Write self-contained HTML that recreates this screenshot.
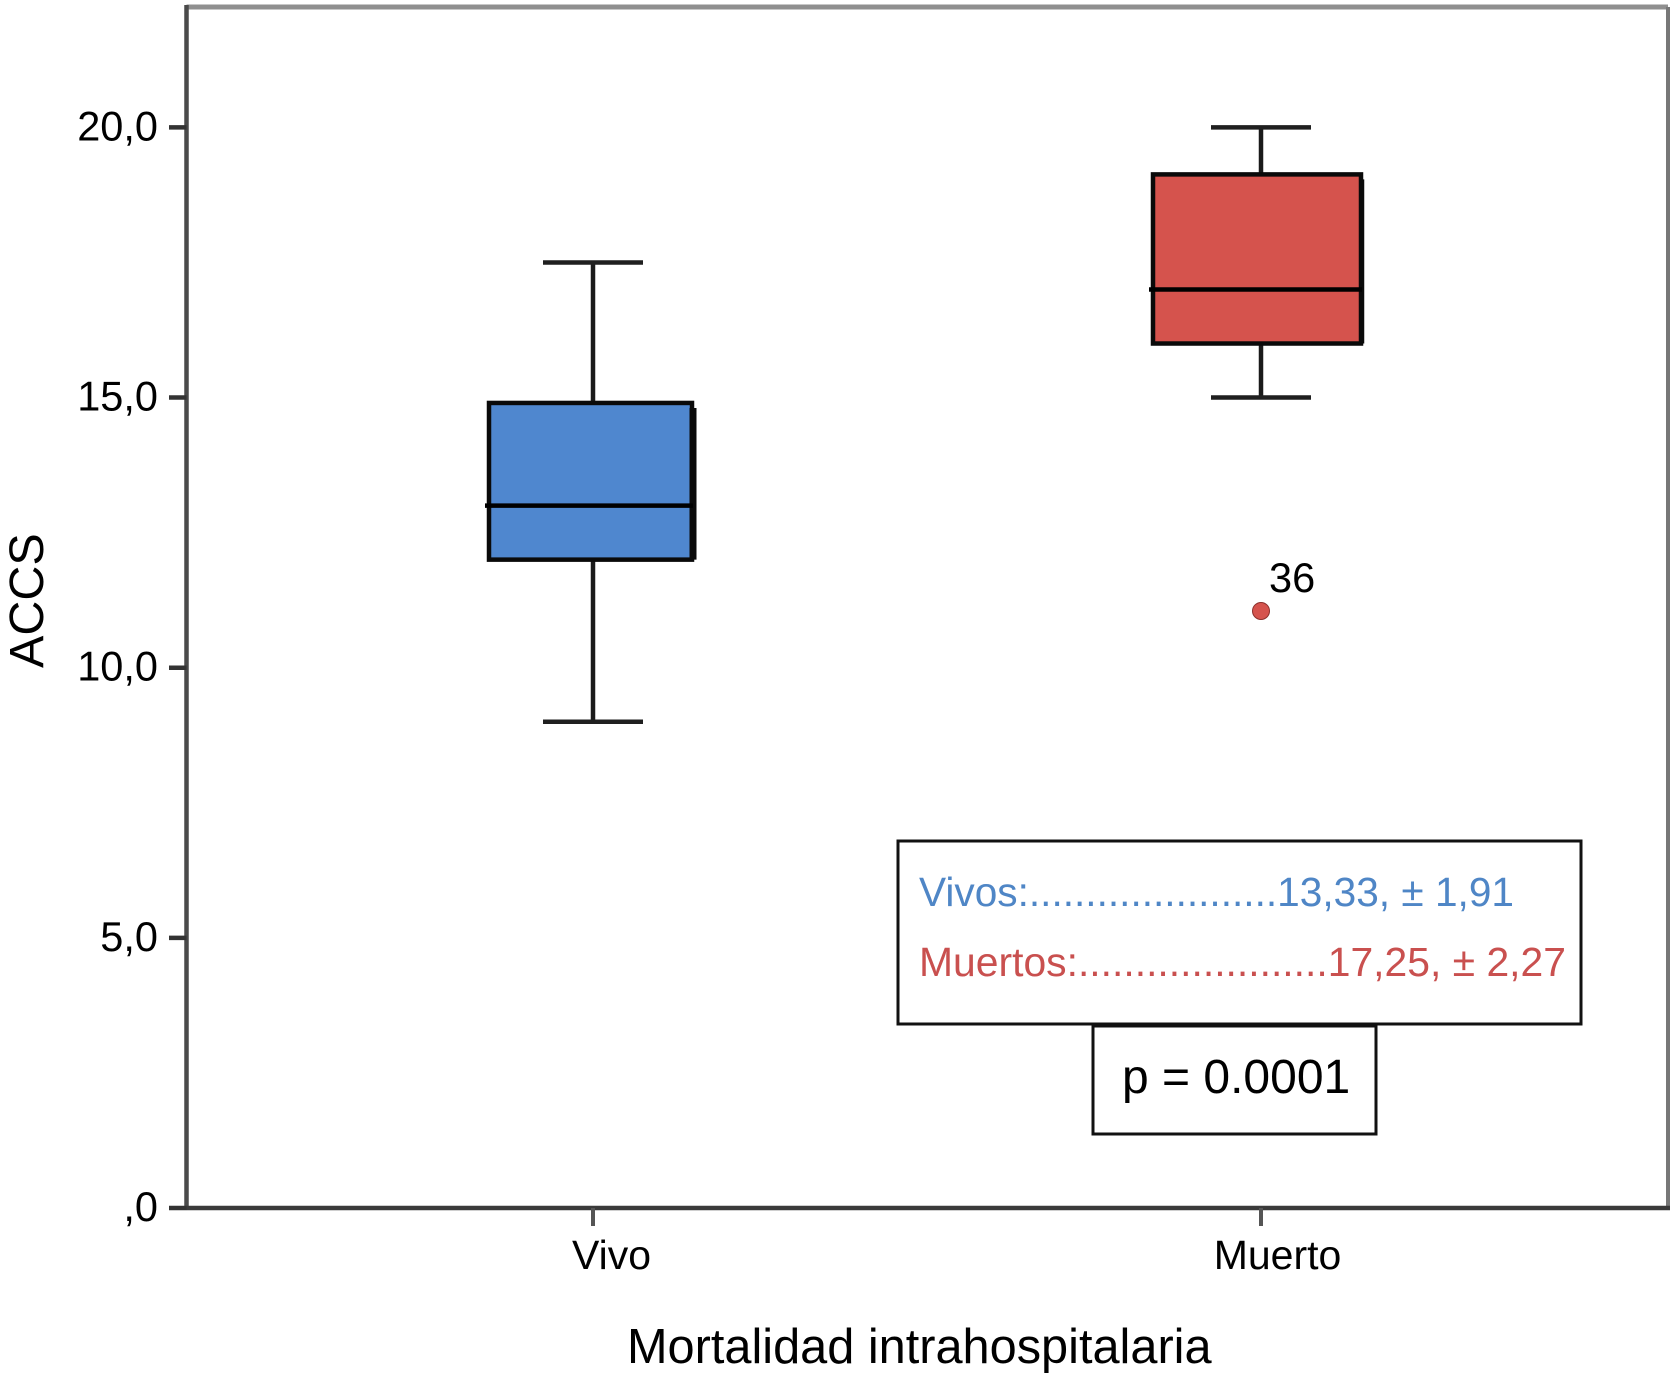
<!DOCTYPE html>
<html lang="es">
<head>
<meta charset="utf-8">
<title>ACCS por mortalidad intrahospitalaria</title>
<style>
  html, body { margin: 0; padding: 0; background: #fff; }
  body { width: 1672px; height: 1374px; overflow: hidden; }
  svg { display: block; }
  text { font-family: "Liberation Sans", sans-serif; fill: #000; }
</style>
</head>
<body>
<svg id="chart" xmlns="http://www.w3.org/2000/svg" width="1672" height="1374" viewBox="0 0 1672 1374">
  <rect x="0" y="0" width="1672" height="1374" fill="#fff"/>
  <g id="frame"></g>
  <g id="marks"></g>
  <g id="axes"></g>
  <text transform="translate(43 668) rotate(-90)" font-size="48.5">ACCS</text>
  <text x="627" y="1363" font-size="48.7">Mortalidad intrahospitalaria</text>
  <g>
    <rect x="898" y="841" width="683" height="183" fill="#fff" stroke="#111" stroke-width="3"/>
    <text x="919" y="906" font-size="41" style="fill:#4f86c6" textLength="595" lengthAdjust="spacingAndGlyphs">Vivos:......................13,33, ± 1,91</text>
    <text x="919" y="976" font-size="41" style="fill:#c9504f" textLength="647" lengthAdjust="spacingAndGlyphs">Muertos:......................17,25, ± 2,27</text>
  </g>
  <g>
    <rect x="1093" y="1026" width="283" height="108" fill="#fff" stroke="#111" stroke-width="3"/>
    <text x="1122" y="1093" font-size="48">p = 0.0001</text>
  </g>
</svg>
<script>
const categories = ["Vivo", "Muerto"];
const whiskerLow = [9, 15];
const q1 = [12, 16];
const medians = [13, 17];
const q3 = [14.9, 19.13];
const whiskerHigh = [17.5, 20];
const fills = ["#4f87cf", "#d5534d"];
const yTicks = [0, 5, 10, 15, 20];
const yTickLabels = [",0", "5,0", "10,0", "15,0", "20,0"];
const outlierValues = [11.05];
const outlierCategory = [1];
const outlierLabels = ["36"];

const NS = "http://www.w3.org/2000/svg";
const plotLeft = 186.5, plotRight = 1668, plotTop = 7, plotBottom = 1208;
const yZero = 1208, yPerUnit = 54.03;
const xFirst = 593, xStep = 668;
function yScale(v) { return yZero - v * yPerUnit; }
function xScale(i) { return xFirst + i * xStep; }

function make(tag, parent, attrs) {
  const el = document.createElementNS(NS, tag);
  for (const k in attrs) el.setAttribute(k, attrs[k]);
  parent.appendChild(el);
  return el;
}
function seg(parent, x1, y1, x2, y2, color, width) {
  return make("line", parent, { x1: x1, y1: y1, x2: x2, y2: y2, stroke: color, "stroke-width": width });
}

const frame = document.getElementById("frame");
const marks = document.getElementById("marks");
const axes = document.getElementById("axes");

let el;
el = seg(frame, plotLeft, plotTop, plotRight, plotTop, "#8f8f8f", 5);


el = seg(frame, plotRight, plotTop, plotRight, plotBottom, "#777", 4);



categories.forEach(function (cat, i) {
  const cx = xScale(i);
  const left = cx - (i === 0 ? 104 : 108), right = cx + (i === 0 ? 99 : 100);
  const g = make("g", marks, {});
  
  

  let m = seg(g, cx, yScale(whiskerHigh[i]), cx, yScale(q3[i]), "#1a1a1a", 4.5);
  
  
  m = seg(g, cx, yScale(q1[i]), cx, yScale(whiskerLow[i]), "#1a1a1a", 4.5);
  
  
  m = seg(g, cx - 50, yScale(whiskerHigh[i]), cx + 50, yScale(whiskerHigh[i]), "#1f1f1f", 4.5);
  
  
  m = seg(g, cx - 50, yScale(whiskerLow[i]), cx + 50, yScale(whiskerLow[i]), "#1f1f1f", 4.5);
  
  

  m = make("rect", g, {
    x: left, y: yScale(q3[i]), width: right - left,
    height: yScale(q1[i]) - yScale(q3[i]),
    fill: fills[i], stroke: "#0a0a0a", "stroke-width": 4.5
  });
  
  

  m = seg(g, right + 1, yScale(q3[i]) + 5, right + 1, yScale(q1[i]), "#0a0a0a", i === 0 ? 7 : 4.5);
  
  

  m = seg(g, left - 4, yScale(medians[i]), right + 1, yScale(medians[i]), "#000", 4.5);
  
  
});

outlierValues.forEach(function (v, i) {
  const cx = xScale(outlierCategory[i]);
  const dot = make("circle", marks, { cx: cx, cy: yScale(v), r: 8.5, fill: fills[outlierCategory[i]], stroke: "#8c2f2b", "stroke-width": 1 });
  
  
  const lab = make("text", marks, { x: cx + 8, y: yScale(v) - 19, "font-size": 41.5 });
  lab.textContent = outlierLabels[i];
  
  
});

el = seg(axes, plotLeft, plotTop - 2, plotLeft, plotBottom, "#4a4a4a", 4.5);


el = seg(axes, plotLeft, plotBottom, plotRight + 2, plotBottom, "#3a3a3a", 4.5);



yTicks.forEach(function (v, i) {
  const y = yScale(v);
  const t = seg(axes, 169, y, plotLeft, y, "#333", 4.5);
  
  
  const lab = make("text", axes, { x: 158, y: y + 13, "font-size": 41.5, "text-anchor": "end" });
  lab.textContent = yTickLabels[i];
  
  
});

categories.forEach(function (cat, i) {
  const x = xScale(i);
  const t = seg(axes, x, plotBottom, x, 1226, "#555", 4);
  
  
  const lab = make("text", axes, { x: x + (i === 0 ? 18.5 : 16.5), y: 1269, "font-size": 41, "text-anchor": "middle" });
  lab.textContent = cat;
  
  
});
</script>
</body>
</html>
